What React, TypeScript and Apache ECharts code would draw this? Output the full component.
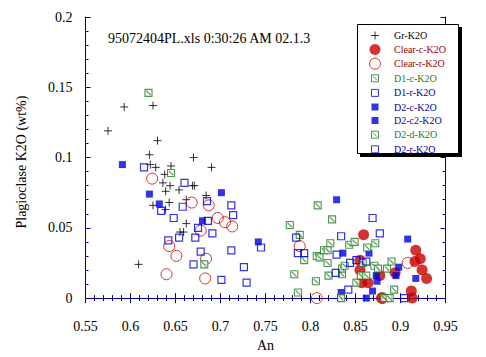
import React, { useEffect, useRef } from "react";
import * as echarts from "echarts";

const xTicks = { min: 0.55, max: 0.95, interval: 0.05 };
const yTicks = { min: 0, max: 0.2, interval: 0.05 };

const titleText = "95072404PL.xls 0:30:26 AM 02.1.3";

const grK2O = [
  [0.575, 0.119], [0.593, 0.136], [0.625, 0.137], [0.630, 0.112], [0.621, 0.102],
  [0.622, 0.095], [0.628, 0.093], [0.645, 0.094], [0.638, 0.088], [0.670, 0.100],
  [0.690, 0.093], [0.636, 0.082], [0.644, 0.080], [0.639, 0.076], [0.654, 0.077],
  [0.669, 0.080], [0.671, 0.080], [0.684, 0.073], [0.643, 0.068], [0.625, 0.066],
  [0.639, 0.063], [0.662, 0.070], [0.662, 0.053], [0.655, 0.047], [0.659, 0.047],
  [0.609, 0.024],
];

const clearC = [
  [0.859, 0.045], [0.917, 0.034], [0.922, 0.028], [0.916, 0.026], [0.924, 0.020],
  [0.929, 0.014], [0.855, 0.027], [0.855, 0.020], [0.857, 0.011], [0.864, 0.011],
  [0.877, 0.016], [0.894, 0.018], [0.912, 0.005], [0.913, 0.000], [0.879, 0.000],
];

const clearR = [
  [0.624, 0.085], [0.668, 0.068], [0.687, 0.066], [0.697, 0.057], [0.705, 0.054],
  [0.713, 0.051], [0.678, 0.048], [0.643, 0.037], [0.651, 0.030], [0.684, 0.028],
  [0.640, 0.017], [0.683, 0.014], [0.788, 0.037], [0.807, 0.000], [0.908, 0.025],
  [0.880, 0.000],
];

const d1c = [
  [0.620, 0.146], [0.645, 0.089], [0.682, 0.024], [0.808, 0.066], [0.824, 0.056],
  [0.777, 0.052], [0.788, 0.045], [0.793, 0.027], [0.782, 0.017], [0.786, 0.004],
  [0.807, 0.030], [0.810, 0.029], [0.815, 0.034], [0.819, 0.034], [0.822, 0.039],
  [0.819, 0.025], [0.806, 0.012], [0.820, 0.016], [0.835, 0.017],
];

const d1r = [
  [0.615, 0.093], [0.660, 0.082], [0.685, 0.069], [0.658, 0.065], [0.634, 0.062],
  [0.712, 0.066], [0.714, 0.059], [0.648, 0.057], [0.675, 0.050], [0.686, 0.055],
  [0.691, 0.046], [0.654, 0.043], [0.672, 0.043], [0.642, 0.041], [0.678, 0.033],
  [0.712, 0.034], [0.670, 0.024],
];

const d2c = [
  [0.591, 0.095], [0.621, 0.074], [0.701, 0.075], [0.632, 0.067], [0.680, 0.055],
  [0.742, 0.040], [0.829, 0.070], [0.836, 0.032], [0.865, 0.032],
];

const d2c2 = [
  [0.908, 0.042], [0.898, 0.022], [0.873, 0.016], [0.874, 0.012], [0.895, 0.016],
  [0.917, 0.014], [0.834, 0.004], [0.869, 0.005], [0.862, 0.000],
];

const d2d = [
  [0.835, 0.021], [0.838, 0.023], [0.843, 0.038], [0.849, 0.040], [0.863, 0.036],
  [0.872, 0.039], [0.851, 0.011], [0.856, 0.016], [0.862, 0.016], [0.858, 0.025],
  [0.871, 0.023], [0.875, 0.021], [0.885, 0.021], [0.890, 0.026], [0.893, 0.006],
  [0.834, 0.000], [0.882, 0.000], [0.888, 0.000],
];

const d2r = [
  [0.701, 0.013], [0.726, 0.022], [0.729, 0.011], [0.745, 0.036], [0.784, 0.043],
  [0.786, 0.032], [0.793, 0.032], [0.834, 0.044], [0.829, 0.031], [0.869, 0.057],
  [0.877, 0.046], [0.828, 0.018], [0.842, 0.006], [0.844, 0.025], [0.851, 0.027],
  [0.862, 0.026], [0.904, 0.000],
];

const FONT = "Liberation Serif";
const NAVY = "#000080";
const RED = "#c80000";
const DRED = "#a00000";
const GREEN = "#1f7a1f";
const BLUE = "#0000e0";
const DBLUE = "#0000a0";

const plusSym = "path://M0,4H8M4,0V8";
const hatchSym = "path://M0,0H8V8H0ZM1.5,1.5L6.5,6.5";
// degenerate segments at the corners keep the icon box at 11x11
const frame = "M0,0L0.01,0M11,11L10.99,11";
const plusIcon = "path://" + frame + "M1.5,5.5H9.5M5.5,1.5V9.5";
const sqIcon = "path://" + frame + "M2,2H9V9H2Z";
const hatchIcon = "path://" + frame + "M2,2H9V9H2ZM3.5,3.5L7.5,7.5";

export default function App() {
  const ref = useRef<HTMLDivElement>(null);
  useEffect(() => {
    if (!ref.current) return;
    const chart = echarts.init(ref.current, null, { renderer: "svg" });
    const axisCommon = {
      axisLine: { show: true, lineStyle: { color: NAVY, width: 1 } },
      axisTick: { show: true, inside: true, length: 5, lineStyle: { color: NAVY } },
      minorTick: { show: true, splitNumber: 5, length: 3, lineStyle: { color: NAVY } },
      splitLine: { show: false },
      minorSplitLine: { show: false },
    };
    const squareSeries = (name: string, data: number[][], filled: boolean, color: string) => ({
      name,
      type: "scatter",
      data,
      symbol: "rect",
      symbolSize: 7,
      itemStyle: filled
        ? { color }
        : { color: "rgba(255,255,255,0)", borderColor: color, borderWidth: 1.2 },
    });
    const hatchSeries = (name: string, data: number[][]) => ({
      name,
      type: "scatter",
      data,
      symbol: hatchSym,
      symbolSize: 7,
      itemStyle: { color: "#ffffff", borderColor: GREEN, borderWidth: 1.1 },
    });
    chart.setOption({
      animation: false,
      grid: { left: 85.5, right: 40.5, top: 17, bottom: 53, containLabel: false },
      xAxis: [
        {
          type: "value",
          ...xTicks,
          position: "bottom",
          ...axisCommon,
          axisLabel: { fontFamily: FONT, fontSize: 14, color: "#000", margin: 21 },
          name: "An",
          nameLocation: "middle",
          nameGap: 35,
          nameTextStyle: { fontFamily: FONT, fontSize: 14, color: "#000" },
        },
        {
          type: "value",
          ...xTicks,
          position: "top",
          ...axisCommon,
          axisLabel: { show: false },
        },
      ],
      yAxis: [
        {
          type: "value",
          ...yTicks,
          position: "left",
          ...axisCommon,
          axisLabel: { fontFamily: FONT, fontSize: 14, color: "#000", margin: 13 },
          name: "Plagioclase K2O (wt%)",
          nameLocation: "middle",
          nameGap: 57,
          nameTextStyle: { fontFamily: FONT, fontSize: 14, color: "#000", padding: [0, 0, 0, -9] },
        },
        {
          type: "value",
          ...yTicks,
          position: "right",
          ...axisCommon,
          axisLabel: { show: false },
        },
      ],
      legend: {
        orient: "vertical",
        left: 369,
        top: 29.5,
        padding: 0,
        itemWidth: 28,
        itemHeight: 11,
        itemGap: 2.6,
        selectedMode: false,
        itemStyle: { borderWidth: 1 },
        textStyle: { fontFamily: FONT, fontSize: 10 },
        data: [
          { name: "Gr-K2O", icon: plusIcon, textStyle: { color: "#000" } },
          { name: "Clear-c-K2O", icon: "circle", textStyle: { color: DRED } },
          { name: "Clear-r-K2O", icon: "circle", textStyle: { color: DRED } },
          { name: "D1-c-K2O", icon: hatchIcon, textStyle: { color: GREEN } },
          { name: "D1-r-K2O", icon: sqIcon, textStyle: { color: DBLUE } },
          { name: "D2-c-K2O", icon: sqIcon, textStyle: { color: DBLUE } },
          { name: "D2-c2-K2O", icon: sqIcon, textStyle: { color: DBLUE } },
          { name: "D2-d-K2O", icon: hatchIcon, textStyle: { color: GREEN } },
          { name: "D2-r-K2O", icon: sqIcon, textStyle: { color: DBLUE } },
        ],
      },
      graphic: [
        {
          type: "rect",
          shape: { x: 360, y: 27, width: 102, height: 130 },
          style: { fill: "#000" },
          z: 1,
        },
        {
          type: "rect",
          shape: { x: 357.5, y: 24.5, width: 101, height: 129 },
          style: { fill: "#fff", stroke: "#000", lineWidth: 1 },
          z: 2,
        },
        {
          type: "text",
          left: 108,
          top: 31,
          style: { text: titleText, fontFamily: FONT, fontSize: 14, fill: "#000" },
          z: 3,
        },
      ],
      series: [
        {
          name: "Gr-K2O",
          type: "scatter",
          data: grK2O,
          symbol: plusSym,
          symbolSize: 8,
          itemStyle: { color: "rgba(0,0,0,0)", borderColor: "#000", borderWidth: 1 },
        },
        {
          name: "Clear-c-K2O",
          type: "scatter",
          data: clearC,
          symbol: "circle",
          symbolSize: 11,
          itemStyle: { color: RED },
        },
        {
          name: "Clear-r-K2O",
          type: "scatter",
          data: clearR,
          symbol: "circle",
          symbolSize: 11,
          itemStyle: { color: "rgba(255,255,255,0)", borderColor: RED, borderWidth: 1 },
        },
        hatchSeries("D1-c-K2O", d1c),
        squareSeries("D1-r-K2O", d1r, false, BLUE),
        squareSeries("D2-c-K2O", d2c, true, BLUE),
        squareSeries("D2-c2-K2O", d2c2, true, BLUE),
        hatchSeries("D2-d-K2O", d2d),
        squareSeries("D2-r-K2O", d2r, false, BLUE),
      ],
    });
    return () => chart.dispose();
  }, []);
  return (
    <div
      ref={ref}
      style={{ position: "fixed", left: 0, top: 0, width: 486, height: 357, background: "#fff" }}
    />
  );
}
